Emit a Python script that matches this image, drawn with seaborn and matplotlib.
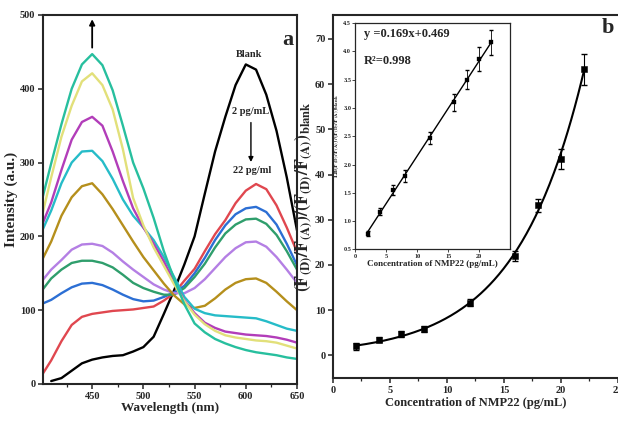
import numpy as np
import pandas as pd
import matplotlib
matplotlib.use("Agg")
import matplotlib.pyplot as plt
from matplotlib.ticker import MultipleLocator
import seaborn as sns

# ---- panel a: fluorescence spectra ----
wavelength = list(range(400, 651, 10))
blank  = [np.nan, 4, 8, 18, 28, 33, 36, 38, 39, 44, 50, 64, 95, 127, 162, 200, 258, 315, 362, 405, 433, 426, 392, 343, 280, 208]
c2     = [10, 32, 58, 80, 91, 95, 97, 99, 100, 101, 103, 105, 113, 123, 140, 156, 180, 203, 222, 245, 262, 271, 264, 242, 212, 179]
c4     = [108, 114, 123, 131, 136, 137, 134, 128, 121, 115, 112, 113, 118, 124, 133, 150, 171, 195, 215, 230, 238, 240, 233, 216, 190, 161]
c6     = [125, 143, 155, 164, 167, 167, 164, 158, 148, 137, 130, 125, 121, 121, 130, 145, 163, 185, 204, 216, 223, 224, 217, 202, 180, 155]
c8     = [138, 155, 168, 182, 189, 190, 187, 178, 166, 155, 145, 135, 128, 123, 123, 130, 142, 157, 172, 184, 192, 193, 186, 172, 155, 137]
c12    = [165, 193, 228, 253, 268, 272, 257, 237, 215, 193, 172, 154, 136, 120, 108, 103, 106, 116, 128, 137, 142, 143, 137, 125, 112, 100]
c16    = [204, 235, 272, 300, 315, 316, 302, 278, 250, 228, 212, 195, 172, 145, 118, 102, 96, 93, 92, 91, 90, 89, 85, 80, 75, 72]
c18    = [212, 246, 290, 331, 355, 362, 350, 315, 275, 238, 212, 190, 166, 138, 113, 96, 83, 76, 71, 69, 67, 66, 65, 63, 60, 56]
c20    = [222, 280, 335, 377, 410, 421, 405, 372, 318, 252, 215, 185, 160, 135, 112, 94, 81, 72, 66, 63, 61, 59, 58, 56, 52, 48]
c22    = [244, 299, 352, 400, 433, 447, 432, 398, 350, 300, 265, 225, 180, 142, 108, 82, 70, 61, 55, 50, 46, 43, 41, 39, 36, 34]

samples = ["Blank", "2", "4", "6", "8", "12", "16", "18", "20", "22"]
colors = ["#000000", "#e0474f", "#2c6fd4", "#2f9e6c", "#b47fe4",
          "#b58f1c", "#26bcc8", "#b23db9", "#e2e07a", "#27bf9e"]

# ---- panel b: ratio vs concentration ----
conc = [2, 4, 6, 8, 12, 16, 18, 20, 22]
ratio = [2.0, 3.5, 4.7, 5.9, 11.7, 22.0, 33.2, 43.5, 63.3]
ratio_err = [0.7, 0.6, 0.7, 0.7, 0.8, 1.2, 1.5, 2.2, 3.4]
ln_ratio = [0.78, 1.17, 1.55, 1.80, 2.47, 3.10, 3.50, 3.87, 4.16]
ln_err = [0.04, 0.06, 0.09, 0.10, 0.11, 0.15, 0.17, 0.21, 0.22]

sns.set_theme(style="ticks")
plt.rcParams["font.family"] = ["Liberation Serif", "DejaVu Serif"]
plt.rcParams["font.weight"] = "bold"
plt.rcParams["axes.labelweight"] = "bold"
plt.rcParams["mathtext.fontset"] = "stix"

fig = plt.figure(figsize=(6.18, 4.21), dpi=100)
ax1 = fig.add_axes([0.0696, 0.0879, 0.411, 0.8765])
ax2 = fig.add_axes([0.5388, 0.1021, 0.4612, 0.8623])
ax3 = fig.add_axes([0.5752, 0.4074, 0.25, 0.538])

# spectra
series = [blank, c2, c4, c6, c8, c12, c16, c18, c20, c22]
rows = []
for name, vals in zip(samples, series):
    for w, v in zip(wavelength, vals):
        rows.append({"wl": w, "I": v, "sample": name})
spec = pd.DataFrame(rows).dropna()
sns.lineplot(data=spec, x="wl", y="I", hue="sample", hue_order=samples,
             palette=colors, estimator=None, legend=False, lw=1.7, ax=ax1)

ax1.set_xlim(402, 650)
ax1.set_ylim(0, 500)
ax1.set_xticks([450, 500, 550, 600, 650])
ax1.xaxis.set_minor_locator(MultipleLocator(25))
ax1.set_yticks(range(0, 501, 100))
ax1.set_xlabel("Wavelength (nm)", fontsize=9.5, labelpad=1)
ax1.set_ylabel("Intensity (a.u.)", fontsize=11)
ax1.yaxis.set_label_coords(-0.1, 0.5)
ax1.annotate("", xy=(450, 498), xytext=(450, 452),
             arrowprops=dict(arrowstyle="-|>", color="black", lw=1.3, mutation_scale=8))
ax1.annotate("", xy=(605, 297), xytext=(605, 358),
             arrowprops=dict(arrowstyle="-|>", color="black", lw=1.0, mutation_scale=7))
ax1.text(603, 446, "Blank", fontsize=7.5, ha="center", va="center")
ax1.text(605, 369, "2 pg/mL", fontsize=7.5, ha="center", va="center")
ax1.text(606, 289, "22 pg/ml", fontsize=7.5, ha="center", va="center")
ax1.text(641, 466, "a", fontsize=16, ha="center", va="center")

# calibration curve
ax2.errorbar(conc, ratio, yerr=ratio_err, fmt="none", ecolor="black", elinewidth=0.8, capsize=2)
fit_b = np.polyfit(conc, np.log(ratio), 1, w=ratio)
xs = np.linspace(conc[0], conc[-1], 200)
sns.lineplot(x=xs, y=np.exp(np.polyval(fit_b, xs)), color="black", lw=1.5, ax=ax2)
sns.scatterplot(x=conc, y=ratio, marker="s", color="black", s=22, edgecolor="black", ax=ax2, zorder=3)
ax2.set_xlim(0, 25)
ax2.set_ylim(-5, 75.3)
ax2.set_xticks(range(0, 26, 5))
ax2.xaxis.set_minor_locator(MultipleLocator(2.5))
ax2.set_yticks(range(0, 71, 10))
ax2.spines["right"].set_visible(False)
ax2.set_xlabel("Concentration of NMP22 (pg/mL)", fontsize=9, labelpad=2)
ax2.set_ylabel(r"$\mathbf{(F_{(D)}/F_{(A)})/(F_{(D)}/F_{(A)})_{blank}}$", fontsize=13)
ax2.yaxis.set_label_coords(-0.062, 0.5)
ax2.text(24.1, 72.5, "b", fontsize=16, ha="center", va="center")

# inset
ax3.errorbar(conc, ln_ratio, yerr=ln_err, fmt="none", ecolor="black", elinewidth=0.6, capsize=1.5)
fit_in = np.polyfit(conc, ln_ratio, 1)
ends = np.array([conc[0], conc[-1]])
sns.lineplot(x=ends, y=np.polyval(fit_in, ends), color="black", lw=1.0, ax=ax3)
sns.scatterplot(x=conc, y=ln_ratio, marker="s", color="black", s=9, edgecolor="black", ax=ax3, zorder=3)
ax3.set_xlim(0, 25)
ax3.set_ylim(0.5, 4.5)
ax3.set_xticks([0, 5, 10, 15, 20])
ax3.set_yticks(np.arange(0.5, 4.51, 0.5))
ax3.set_yticklabels(["%.1f" % v for v in np.arange(0.5, 4.51, 0.5)])
ax3.tick_params(labelsize=4.5, length=2, width=0.6, pad=1)
ax3.set_xlabel("Concentration of NMP22 (pg/mL)", fontsize=6.5, labelpad=1)
ax3.set_ylabel(r"$\mathbf{Ln(F_{(D)}/F_{(A)})/(F_{(D)}/F_{(A)})_{blank}}$", fontsize=5, labelpad=2)
ax3.text(1.4, 4.3, "y =0.169x+0.469", fontsize=9, ha="left", va="center")
ax3.text(1.4, 3.82, "R²=0.998", fontsize=9, ha="left", va="center")
for s in ax3.spines.values():
    s.set_linewidth(0.9)

for ax in (ax1, ax2):
    ax.tick_params(which="major", labelsize=7.5, length=3.5, width=1.1, pad=2)
    ax.tick_params(which="minor", length=2, width=0.9)
    for s in ax.spines.values():
        s.set_linewidth(1.5)

fig.savefig("out.png", dpi=100)
